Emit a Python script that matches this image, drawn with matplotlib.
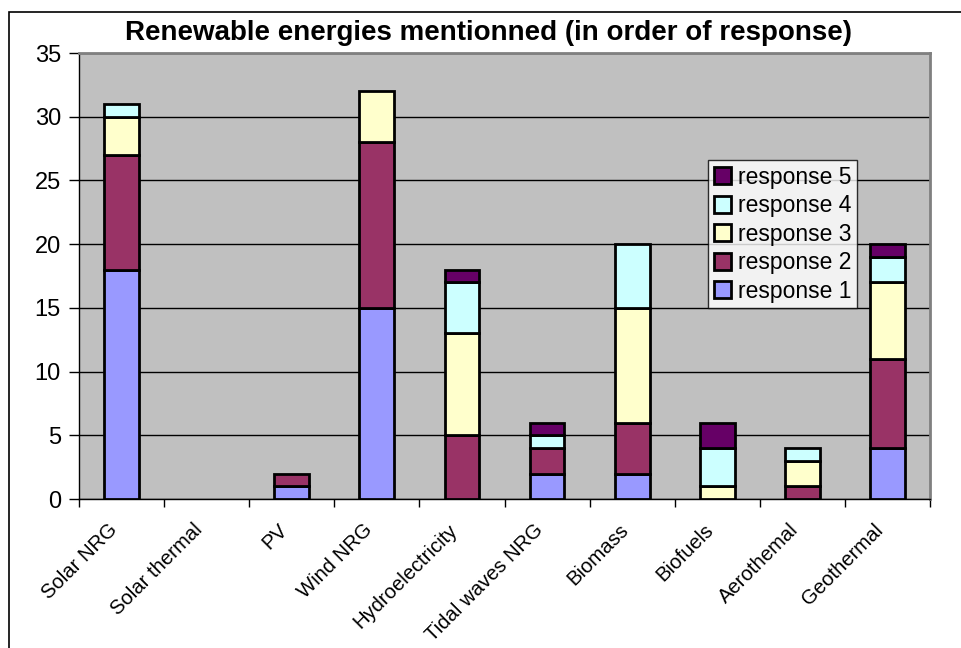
import matplotlib.pyplot as plt
import matplotlib.transforms as mtransforms
import numpy as np

plt.rcParams['font.family'] = ['Liberation Sans', 'DejaVu Sans']

categories = ["Solar NRG", "Solar thermal", "PV", "Wind NRG", "Hydroelectricity",
              "Tidal waves NRG", "Biomass", "Biofuels", "Aerothemal", "Geothermal"]
response1 = [18, 0, 1, 15, 0, 2, 2, 0, 0, 4]
response2 = [9, 0, 1, 13, 5, 2, 4, 0, 1, 7]
response3 = [3, 0, 0, 4, 8, 0, 9, 1, 2, 6]
response4 = [1, 0, 0, 0, 4, 1, 5, 3, 1, 2]
response5 = [0, 0, 0, 0, 1, 1, 0, 2, 0, 1]

series = [response1, response2, response3, response4, response5]
names = ["response 1", "response 2", "response 3", "response 4", "response 5"]
colors = ["#9999FF", "#993366", "#FFFFCC", "#CCFFFF", "#660066"]

fig = plt.figure(figsize=(9.62, 6.48), dpi=100)
# outer chart border
fig.patches.append(plt.Rectangle((8.5 / 962, -0.1), 2, 1 - 11.5 / 648 + 0.1,
                                 transform=fig.transFigure, fill=False,
                                 edgecolor='black', linewidth=1.2))
ax = fig.add_axes([79 / 962, 1 - 499 / 648, 851 / 962, 446 / 648])
ax.set_facecolor('#C0C0C0')

x = np.arange(len(categories))
bottom = np.zeros(len(categories))
handles = []
for vals, name, col in zip(series, names, colors):
    vals = np.array(vals, dtype=float)
    keep = vals > 0  # Excel draws nothing for empty segments
    h = ax.bar(x[keep], vals[keep], width=0.41, bottom=bottom[keep], color=col,
               edgecolor='black', linewidth=2, label=name, zorder=3)
    handles.append(h)
    bottom += vals

ax.set_xlim(-0.5, len(categories) - 0.5)
ax.set_ylim(0, 35)
ax.set_yticks(range(0, 36, 5))
ax.yaxis.grid(True, color='black', linewidth=1, zorder=0)
ax.set_axisbelow(True)

# ticks sit between categories, labels under the bar centres
ax.set_xticks(np.arange(-0.5, len(categories), 1))
ax.set_xticklabels([])
ax.tick_params(axis='x', length=6, width=1)
ax.tick_params(axis='y', length=7, width=1, labelsize=17, pad=6)

lab_trans = ax.get_xaxis_transform() + mtransforms.ScaledTranslation(
    -0.07, -0.28, fig.dpi_scale_trans)
for xi, name in zip(x, categories):
    ax.text(xi, 0, name, transform=lab_trans, rotation=45, ha='right', va='center',
            rotation_mode='anchor', fontsize=14.6)

for side in ['top', 'right']:
    ax.spines[side].set_color('#808080')
    ax.spines[side].set_linewidth(2)
for side in ['left', 'bottom']:
    ax.spines[side].set_color('black')
    ax.spines[side].set_linewidth(1)

fig.text(489 / 962, 1 - 33 / 648, "Renewable energies mentionned (in order of response)",
         ha='center', va='center', fontsize=20, fontweight='bold')

leg = ax.legend(handles[::-1], names[::-1], loc='upper left',
                bbox_to_anchor=(0.739, 0.76), borderaxespad=0, fontsize=16.5,
                frameon=True, fancybox=False, edgecolor='black',
                handlelength=0.75, handleheight=0.75, handletextpad=0.3,
                labelspacing=0.24, borderpad=0.25)
leg.get_frame().set_linewidth(1)

fig.savefig("out.png", dpi=100)
